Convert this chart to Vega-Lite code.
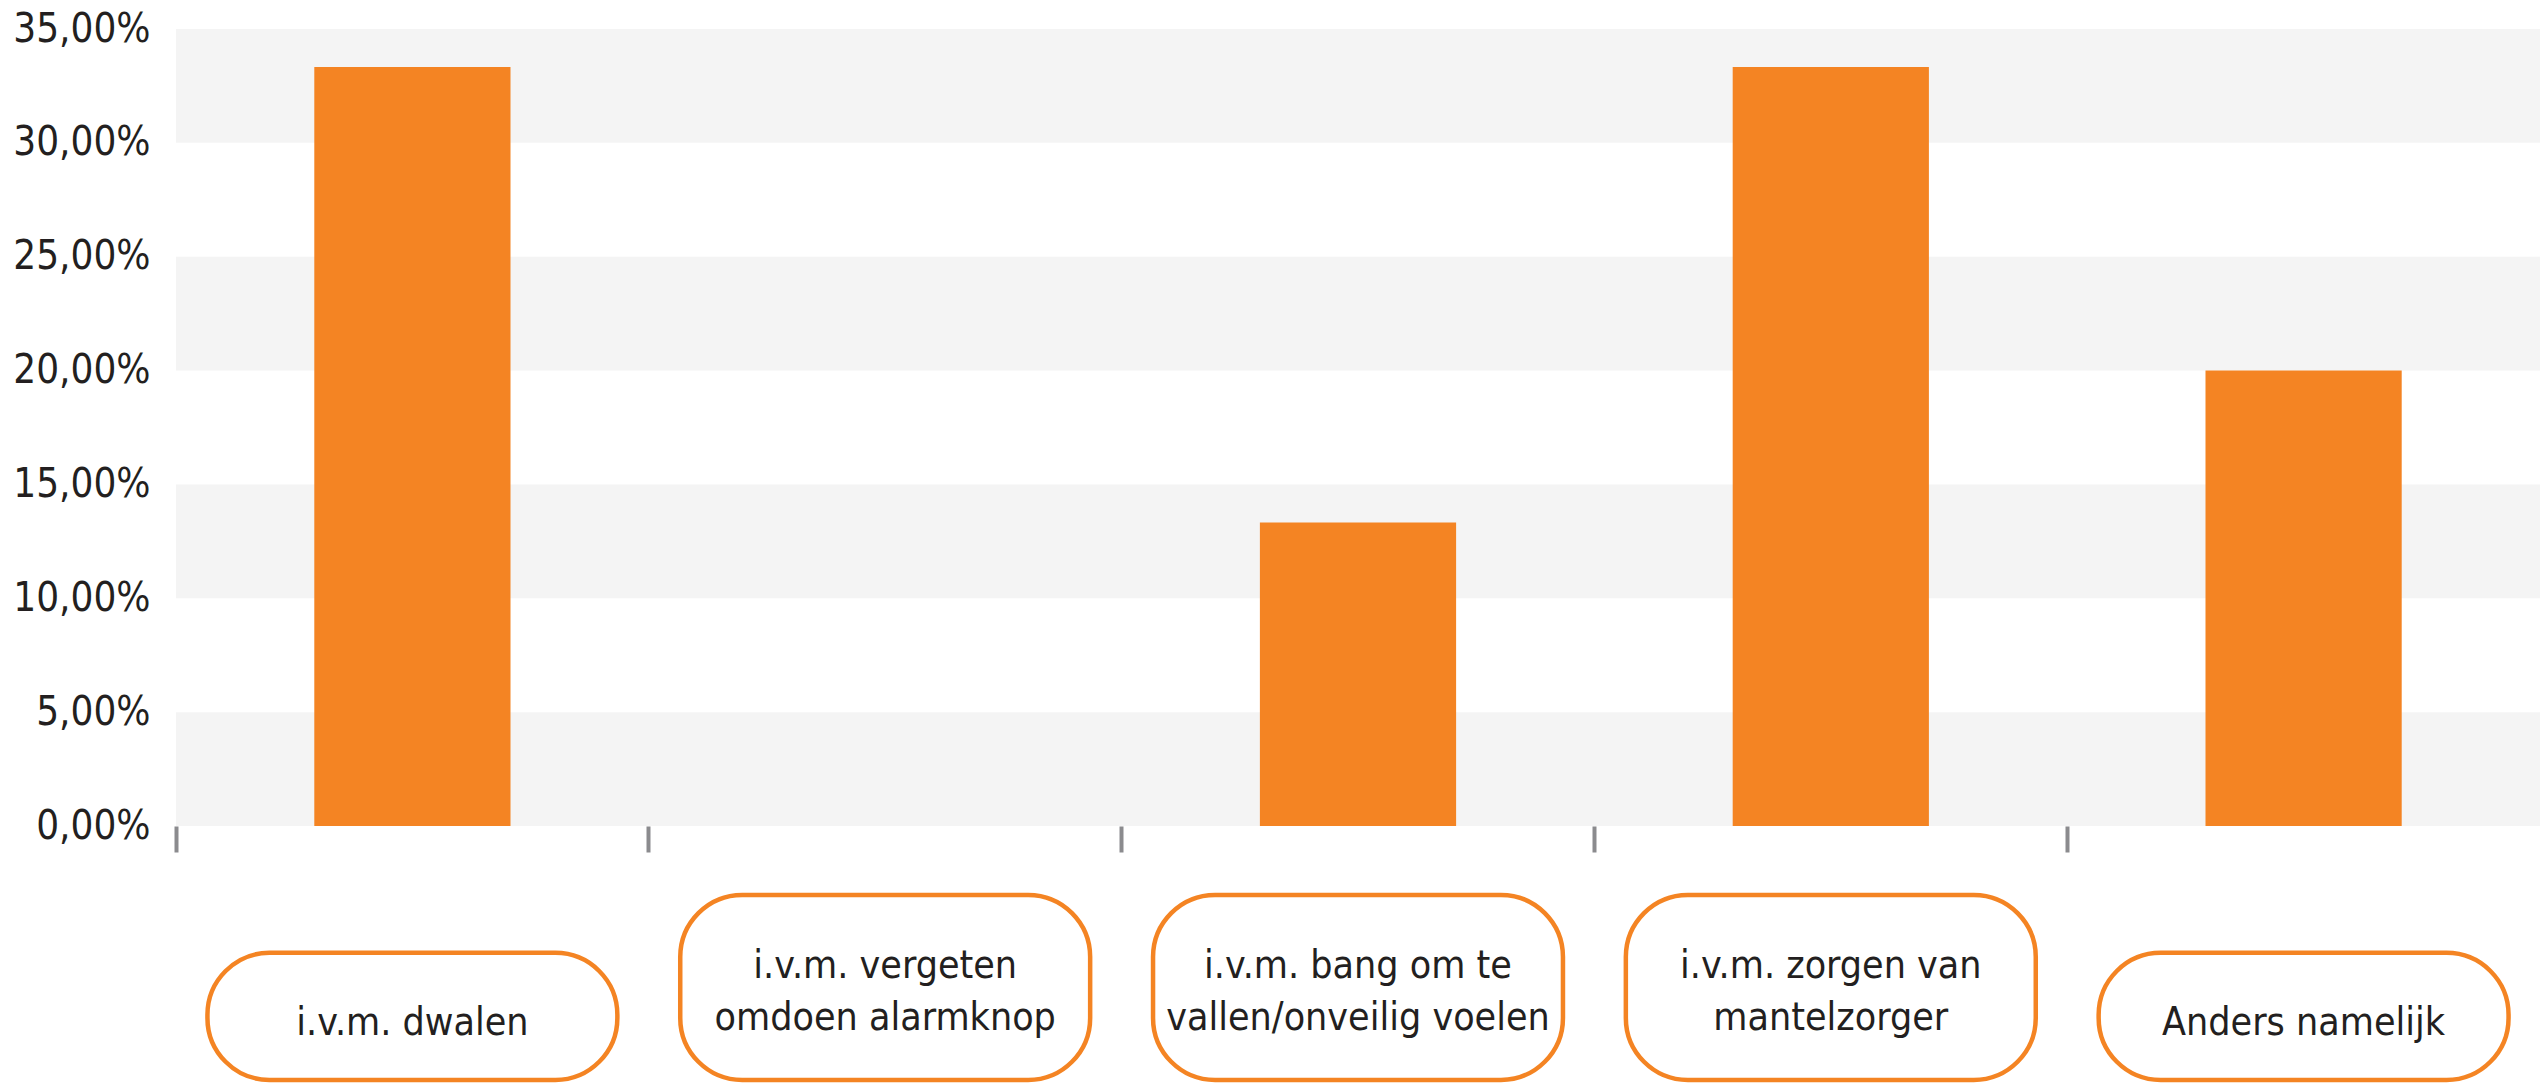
{
  "$schema": "https://vega.github.io/schema/vega-lite/v6.json",
  "width": 2364,
  "height": 797,
  "autosize": {"type": "none"},
  "padding": {"left": 176, "top": 29, "right": 0, "bottom": 257},
  "background": "white",
  "config": {
    "view": {"stroke": null},
    "font": "DejaVu Sans Condensed, Liberation Sans, sans-serif"
  },
  "datasets": {
    "answers": [
      {"category": "i.v.m. dwalen", "label": ["i.v.m. dwalen"], "share": 0.3333},
      {"category": "i.v.m. vergeten omdoen alarmknop", "label": ["i.v.m. vergeten", "omdoen alarmknop"], "share": 0},
      {"category": "i.v.m. bang om te vallen/onveilig voelen", "label": ["i.v.m. bang om te", "vallen/onveilig voelen"], "share": 0.1333},
      {"category": "i.v.m. zorgen van mantelzorger", "label": ["i.v.m. zorgen van", "mantelzorger"], "share": 0.3333},
      {"category": "Anders namelijk", "label": ["Anders namelijk"], "share": 0.2}
    ],
    "stripes": [
      {"lo": 0, "hi": 0.05},
      {"lo": 0.1, "hi": 0.15},
      {"lo": 0.2, "hi": 0.25},
      {"lo": 0.3, "hi": 0.35}
    ]
  },
  "data": {"name": "answers"},
  "encoding": {
    "x": {
      "field": "category",
      "type": "nominal",
      "sort": null,
      "scale": {"paddingInner": 0, "paddingOuter": 0},
      "axis": {
        "title": null,
        "labels": false,
        "domain": false,
        "grid": false,
        "bandPosition": 0,
        "ticks": true,
        "tickColor": "#8b8b8e",
        "tickWidth": 4,
        "tickSize": 26
      }
    }
  },
  "layer": [
    {
      "data": {"name": "stripes"},
      "mark": {"type": "rect", "color": "#f4f4f4"},
      "encoding": {
        "x": null,
        "y": {
          "field": "lo",
          "type": "quantitative",
          "scale": {"domain": [0, 0.35], "nice": false, "zero": true},
          "axis": {
            "title": null,
            "values": [0, 0.05, 0.1, 0.15, 0.2, 0.25, 0.3, 0.35],
            "labelExpr": "replace(format(datum.value, '.2%'), '.', ',')",
            "labelFontSize": 40,
            "labelColor": "#231f20",
            "labelPadding": 26,
            "ticks": false,
            "domain": false,
            "grid": false
          }
        },
        "y2": {"field": "hi"}
      }
    },
    {
      "mark": {"type": "bar", "color": "#f48423", "width": {"band": 0.415}},
      "encoding": {
        "y": {"field": "share", "type": "quantitative"}
      }
    },
    {
      "transform": [{"filter": "length(datum.label) == 1"}],
      "mark": {"type": "bar", "fill": "white", "stroke": "#f48423", "strokeWidth": 4.5, "cornerRadius": 62, "width": {"band": 0.867}},
      "encoding": {
        "y": {"datum": -0.0557, "type": "quantitative"},
        "y2": {"datum": -0.1115}
      }
    },
    {
      "transform": [{"filter": "length(datum.label) == 2"}],
      "mark": {"type": "bar", "fill": "white", "stroke": "#f48423", "strokeWidth": 4.5, "cornerRadius": 62, "width": {"band": 0.867}},
      "encoding": {
        "y": {"datum": -0.0303, "type": "quantitative"},
        "y2": {"datum": -0.1115}
      }
    },
    {
      "transform": [{"filter": "length(datum.label) == 1"}],
      "mark": {"type": "text", "baseline": "alphabetic", "align": "center", "fontSize": 39, "lineHeight": 52, "color": "#231f20"},
      "encoding": {
        "y": {"datum": -0.0918, "type": "quantitative"},
        "text": {"field": "label"}
      }
    },
    {
      "transform": [{"filter": "length(datum.label) == 2"}],
      "mark": {"type": "text", "baseline": "alphabetic", "align": "center", "fontSize": 39, "lineHeight": 52, "color": "#231f20"},
      "encoding": {
        "y": {"datum": -0.0668, "type": "quantitative"},
        "text": {"field": "label"}
      }
    }
  ]
}
